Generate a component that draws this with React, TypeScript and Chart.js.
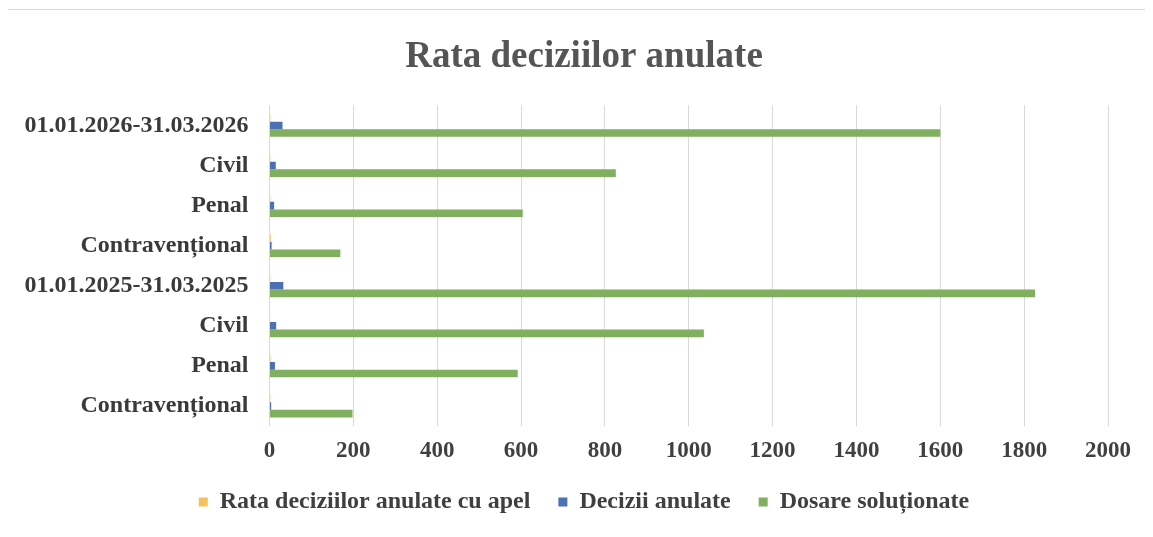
import React, { useEffect, useRef } from 'react';
import { Chart, registerables } from 'chart.js';

Chart.register(...registerables);

const categories = [
  '01.01.2026-31.03.2026',
  'Civil',
  'Penal',
  'Contravențional',
  '01.01.2025-31.03.2025',
  'Civil',
  'Penal',
  'Contravențional',
];

const seriesNames = ['Rata deciziilor anulate cu apel', 'Decizii anulate', 'Dosare soluționate'];

const rataApel = [1.9, 1.8, 1.8, 3.0, 1.8, 1.5, 2.2, 2.0];
const deciziiAnulate = [31, 15, 11, 5, 33, 16, 13, 4];
const dosareSolutionate = [1600, 826, 604, 169, 1826, 1036, 592, 198];

const xMin = 0;
const xMax = 2000;
const xStep = 200;

const FONT = "'Liberation Serif', 'Times New Roman', serif";

export default function App() {
  const ref = useRef<HTMLCanvasElement | null>(null);

  useEffect(() => {
    if (!ref.current) return;
    const chart = new Chart(ref.current, {
      type: 'bar',
      data: {
        labels: categories,
        datasets: [
          {
            label: seriesNames[0],
            data: rataApel,
            backgroundColor: '#F2C35B',
            borderWidth: 0,
            categoryPercentage: 0.57,
            barPercentage: 1,
          },
          {
            label: seriesNames[1],
            data: deciziiAnulate,
            backgroundColor: '#4B70B3',
            borderWidth: 0,
            categoryPercentage: 0.57,
            barPercentage: 1,
          },
          {
            label: seriesNames[2],
            data: dosareSolutionate,
            backgroundColor: '#7FAF5F',
            borderWidth: 0,
            categoryPercentage: 0.57,
            barPercentage: 1,
          },
        ],
      },
      options: {
        indexAxis: 'y',
        responsive: false,
        animation: false,
        layout: { padding: { left: 0, right: 0, top: 0, bottom: 6 } },
        plugins: {
          title: {
            display: true,
            text: 'Rata deciziilor anulate',
            color: '#555555',
            font: { family: FONT, size: 37, weight: 'bold' },
            padding: { top: 25, bottom: 26 },
          },
          legend: {
            position: 'bottom',
            labels: {
              boxWidth: 9,
              boxHeight: 9,
              padding: 28,
              color: '#3f3f3f',
              font: { family: FONT, size: 24, weight: 'bold' },
            },
          },
          tooltip: { enabled: false },
        },
        scales: {
          x: {
            min: xMin,
            max: xMax,
            ticks: {
              stepSize: xStep,
              padding: 14,
              color: '#404040',
              font: { family: FONT, size: 23, weight: 'bold', lineHeight: 1 },
              callback: (v: any) => String(v),
            },
            grid: { color: '#d9d9d9', lineWidth: 1, drawTicks: false },
            border: { display: false },
            afterFit: (s: any) => {
              s.height = 36;
            },
          },
          y: {
            ticks: {
              padding: 21,
              autoSkip: false,
              color: '#3a3a3a',
              font: { family: FONT, size: 24, weight: 'bold' },
            },
            grid: { display: false, drawTicks: false },
            border: { display: false },
            afterFit: (s: any) => {
              s.width = 249.5;
            },
          },
          yRight: {
            type: 'category',
            position: 'right',
            ticks: { display: false },
            grid: { display: false, drawTicks: false },
            border: { display: false },
            afterFit: (s: any) => {
              s.width = 40;
            },
          },
        },
      },
    } as any);
    return () => chart.destroy();
  }, []);

  return (
    <div style={{ position: 'relative', width: 1137, height: 521 }}>
      <div
        style={{
          position: 'absolute',
          left: -1,
          top: 1,
          width: 1137,
          height: 522,
          border: '1px solid #d6d6d6',
          boxSizing: 'content-box',
        }}
      />
      <canvas
        ref={ref}
        width={1128}
        height={520}
        style={{ position: 'absolute', left: 12, top: 2, width: 1128, height: 520 }}
      />
    </div>
  );
}
